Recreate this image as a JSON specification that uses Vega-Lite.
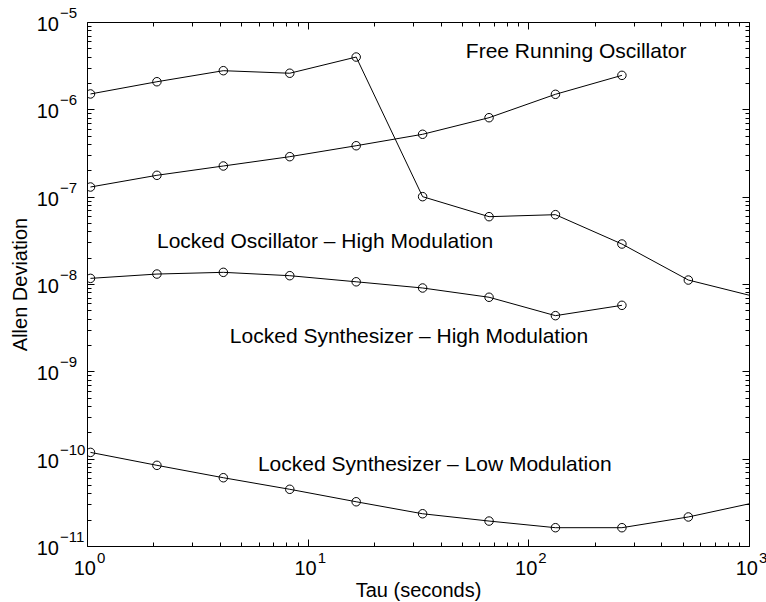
{
  "$schema": "https://vega.github.io/schema/vega-lite/v6.json",
  "width": 662,
  "height": 524,
  "autosize": {"type": "none"},
  "padding": {"left": 87, "top": 22, "right": 17, "bottom": 56},
  "background": "white",
  "config": {
    "view": {"stroke": "black", "strokeWidth": 1},
    "font": "Liberation Sans",
    "text": {"font": "Liberation Sans", "color": "black"}
  },
  "datasets": {
    "curves": [
      {"series": "Locked Oscillator - High Modulation", "tau": 1.037, "ad": 1.50e-6},
      {"series": "Locked Oscillator - High Modulation", "tau": 2.074, "ad": 2.07e-6},
      {"series": "Locked Oscillator - High Modulation", "tau": 4.148, "ad": 2.77e-6},
      {"series": "Locked Oscillator - High Modulation", "tau": 8.296, "ad": 2.59e-6},
      {"series": "Locked Oscillator - High Modulation", "tau": 16.59, "ad": 3.97e-6},
      {"series": "Locked Oscillator - High Modulation", "tau": 33.18, "ad": 1.00e-7},
      {"series": "Locked Oscillator - High Modulation", "tau": 66.37, "ad": 5.90e-8},
      {"series": "Locked Oscillator - High Modulation", "tau": 132.7, "ad": 6.22e-8},
      {"series": "Locked Oscillator - High Modulation", "tau": 265.5, "ad": 2.87e-8},
      {"series": "Locked Oscillator - High Modulation", "tau": 531, "ad": 1.11e-8},
      {"series": "Locked Oscillator - High Modulation", "tau": 1062, "ad": 7.17e-9},
      {"series": "Free Running Oscillator", "tau": 1.037, "ad": 1.29e-7},
      {"series": "Free Running Oscillator", "tau": 2.074, "ad": 1.756e-7},
      {"series": "Free Running Oscillator", "tau": 4.148, "ad": 2.245e-7},
      {"series": "Free Running Oscillator", "tau": 8.296, "ad": 2.87e-7},
      {"series": "Free Running Oscillator", "tau": 16.59, "ad": 3.83e-7},
      {"series": "Free Running Oscillator", "tau": 33.18, "ad": 5.18e-7},
      {"series": "Free Running Oscillator", "tau": 66.37, "ad": 8.02e-7},
      {"series": "Free Running Oscillator", "tau": 132.7, "ad": 1.486e-6},
      {"series": "Free Running Oscillator", "tau": 265.5, "ad": 2.45e-6},
      {"series": "Locked Synthesizer - High Modulation", "tau": 1.037, "ad": 1.16e-8},
      {"series": "Locked Synthesizer - High Modulation", "tau": 2.074, "ad": 1.30e-8},
      {"series": "Locked Synthesizer - High Modulation", "tau": 4.148, "ad": 1.36e-8},
      {"series": "Locked Synthesizer - High Modulation", "tau": 8.296, "ad": 1.245e-8},
      {"series": "Locked Synthesizer - High Modulation", "tau": 16.59, "ad": 1.06e-8},
      {"series": "Locked Synthesizer - High Modulation", "tau": 33.18, "ad": 9.0e-9},
      {"series": "Locked Synthesizer - High Modulation", "tau": 66.37, "ad": 7.05e-9},
      {"series": "Locked Synthesizer - High Modulation", "tau": 132.7, "ad": 4.34e-9},
      {"series": "Locked Synthesizer - High Modulation", "tau": 265.5, "ad": 5.70e-9},
      {"series": "Locked Synthesizer - Low Modulation", "tau": 1.037, "ad": 1.18e-10},
      {"series": "Locked Synthesizer - Low Modulation", "tau": 2.074, "ad": 8.39e-11},
      {"series": "Locked Synthesizer - Low Modulation", "tau": 4.148, "ad": 6.05e-11},
      {"series": "Locked Synthesizer - Low Modulation", "tau": 8.296, "ad": 4.46e-11},
      {"series": "Locked Synthesizer - Low Modulation", "tau": 16.59, "ad": 3.21e-11},
      {"series": "Locked Synthesizer - Low Modulation", "tau": 33.18, "ad": 2.34e-11},
      {"series": "Locked Synthesizer - Low Modulation", "tau": 66.37, "ad": 1.93e-11},
      {"series": "Locked Synthesizer - Low Modulation", "tau": 132.7, "ad": 1.62e-11},
      {"series": "Locked Synthesizer - Low Modulation", "tau": 265.5, "ad": 1.62e-11},
      {"series": "Locked Synthesizer - Low Modulation", "tau": 531, "ad": 2.15e-11},
      {"series": "Locked Synthesizer - Low Modulation", "tau": 1062, "ad": 3.14e-11}
    ],
    "notes": [
      {"label": "Free Running Oscillator", "tau": 52.1, "ad": 4.53e-6},
      {"label": "Locked Oscillator – High Modulation", "tau": 2.075, "ad": 3.03e-8},
      {"label": "Locked Synthesizer – High Modulation", "tau": 4.44, "ad": 2.47e-9},
      {"label": "Locked Synthesizer – Low Modulation", "tau": 5.95, "ad": 8.46e-11}
    ],
    "yticks": [
      {"ad": 1e-5, "exp": "−5"},
      {"ad": 1e-6, "exp": "−6"},
      {"ad": 1e-7, "exp": "−7"},
      {"ad": 1e-8, "exp": "−8"},
      {"ad": 1e-9, "exp": "−9"},
      {"ad": 1e-10, "exp": "−10"},
      {"ad": 1e-11, "exp": "−11"}
    ],
    "xticks": [
      {"tau": 1, "exp": "0"},
      {"tau": 10, "exp": "1"},
      {"tau": 100, "exp": "2"},
      {"tau": 1000, "exp": "3"}
    ]
  },
  "layer": [
    {
      "data": {"name": "curves"},
      "encoding": {
        "x": {
          "field": "tau", "type": "quantitative",
          "scale": {"type": "log", "domain": [1, 1000]},
          "axis": {
            "orient": "bottom",
            "values": [1,2,3,4,5,6,7,8,9,10,20,30,40,50,60,70,80,90,100,200,300,400,500,600,700,800,900,1000],
            "labels": false, "domain": false, "grid": false,
            "tickColor": "black", "tickWidth": 1,
            "tickSize": {"condition": {"test": "abs(log(datum.value)/LN10 - round(log(datum.value)/LN10)) < 0.001", "value": -7}, "value": -4},
            "title": "Tau (seconds)",
            "titleFont": "Liberation Sans", "titleFontSize": 20, "titleFontWeight": "normal", "titleColor": "black",
            "titleAlign": "center", "titleBaseline": "alphabetic", "titleX": 331, "titleY": 50
          }
        },
        "y": {
          "field": "ad", "type": "quantitative",
          "scale": {"type": "log", "domain": [1e-11, 1e-5]},
          "axis": {
            "orient": "left",
            "values": [1e-11,2e-11,3e-11,4e-11,5e-11,6e-11,7e-11,8e-11,9e-11,1e-10,2e-10,3e-10,4e-10,5e-10,6e-10,7e-10,8e-10,9e-10,1e-9,2e-9,3e-9,4e-9,5e-9,6e-9,7e-9,8e-9,9e-9,1e-8,2e-8,3e-8,4e-8,5e-8,6e-8,7e-8,8e-8,9e-8,1e-7,2e-7,3e-7,4e-7,5e-7,6e-7,7e-7,8e-7,9e-7,1e-6,2e-6,3e-6,4e-6,5e-6,6e-6,7e-6,8e-6,9e-6,1e-5],
            "labels": false, "domain": false, "grid": false,
            "tickColor": "black", "tickWidth": 1,
            "tickSize": {"condition": {"test": "abs(log(datum.value)/LN10 - round(log(datum.value)/LN10)) < 0.001", "value": -7}, "value": -4},
            "title": "Allen Deviation",
            "titleFont": "Liberation Sans", "titleFontSize": 20, "titleFontWeight": "normal", "titleColor": "black",
            "titleAngle": 270, "titleAlign": "center", "titleBaseline": "alphabetic", "titleX": -61, "titleY": 262
          }
        }
      },
      "layer": [
        {
          "mark": {"type": "line", "color": "black", "strokeWidth": 1, "clip": true},
          "encoding": {"detail": {"field": "series"}}
        },
        {
          "mark": {"type": "point", "shape": "circle", "filled": false, "color": "black", "opacity": 1, "size": 72, "strokeWidth": 1, "clip": true},
          "encoding": {"detail": {"field": "series"}}
        }
      ]
    },
    {
      "data": {"name": "curves"},
      "mark": {"type": "point", "opacity": 0},
      "encoding": {
        "x": {
          "field": "tau", "type": "quantitative",
          "scale": {"type": "log", "domain": [1, 1000]},
          "axis": {
            "orient": "top",
            "values": [1,2,3,4,5,6,7,8,9,10,20,30,40,50,60,70,80,90,100,200,300,400,500,600,700,800,900,1000],
            "labels": false, "domain": false, "grid": false, "title": null,
            "tickColor": "black", "tickWidth": 1,
            "tickSize": {"condition": {"test": "abs(log(datum.value)/LN10 - round(log(datum.value)/LN10)) < 0.001", "value": -7}, "value": -4}
          }
        },
        "y": {
          "field": "ad", "type": "quantitative",
          "scale": {"type": "log", "domain": [1e-11, 1e-5]},
          "axis": {
            "orient": "right",
            "values": [1e-11,2e-11,3e-11,4e-11,5e-11,6e-11,7e-11,8e-11,9e-11,1e-10,2e-10,3e-10,4e-10,5e-10,6e-10,7e-10,8e-10,9e-10,1e-9,2e-9,3e-9,4e-9,5e-9,6e-9,7e-9,8e-9,9e-9,1e-8,2e-8,3e-8,4e-8,5e-8,6e-8,7e-8,8e-8,9e-8,1e-7,2e-7,3e-7,4e-7,5e-7,6e-7,7e-7,8e-7,9e-7,1e-6,2e-6,3e-6,4e-6,5e-6,6e-6,7e-6,8e-6,9e-6,1e-5],
            "labels": false, "domain": false, "grid": false, "title": null,
            "tickColor": "black", "tickWidth": 1,
            "tickSize": {"condition": {"test": "abs(log(datum.value)/LN10 - round(log(datum.value)/LN10)) < 0.001", "value": -7}, "value": -4}
          }
        }
      }
    },
    {
      "data": {"name": "notes"},
      "mark": {"type": "text", "align": "left", "baseline": "middle", "fontSize": 21, "color": "black"},
      "encoding": {
        "x": {"field": "tau", "type": "quantitative", "scale": {"type": "log", "domain": [1, 1000]}, "axis": null},
        "y": {"field": "ad", "type": "quantitative", "scale": {"type": "log", "domain": [1e-11, 1e-5]}, "axis": null},
        "text": {"field": "label"}
      }
    },
    {
      "data": {"name": "yticks"},
      "layer": [
        {
          "mark": {"type": "text", "align": "right", "baseline": "middle", "fontSize": 20, "dx": -28, "dy": 3, "color": "black"},
          "encoding": {"text": {"value": "10"}}
        },
        {
          "mark": {"type": "text", "align": "left", "baseline": "middle", "fontSize": 15, "dx": -27, "dy": -9, "color": "black"},
          "encoding": {"text": {"field": "exp"}}
        }
      ],
      "encoding": {
        "x": {"datum": 1, "type": "quantitative", "scale": {"type": "log", "domain": [1, 1000]}, "axis": null},
        "y": {"field": "ad", "type": "quantitative", "scale": {"type": "log", "domain": [1e-11, 1e-5]}, "axis": null}
      }
    },
    {
      "data": {"name": "xticks"},
      "layer": [
        {
          "mark": {"type": "text", "align": "right", "baseline": "middle", "fontSize": 20, "dx": 9, "dy": 23, "color": "black"},
          "encoding": {"text": {"value": "10"}}
        },
        {
          "mark": {"type": "text", "align": "left", "baseline": "middle", "fontSize": 15, "dx": 10, "dy": 12, "color": "black"},
          "encoding": {"text": {"field": "exp"}}
        }
      ],
      "encoding": {
        "x": {"field": "tau", "type": "quantitative", "scale": {"type": "log", "domain": [1, 1000]}, "axis": null},
        "y": {"datum": 1e-11, "type": "quantitative", "scale": {"type": "log", "domain": [1e-11, 1e-5]}, "axis": null}
      }
    }
  ],
  "resolve": {"axis": {"x": "independent", "y": "independent"}}
}
